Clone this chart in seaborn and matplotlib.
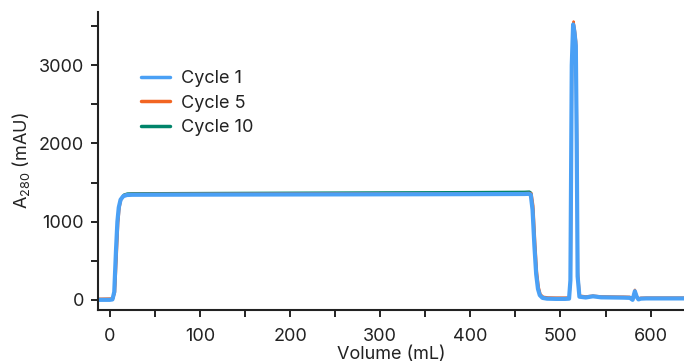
import numpy as np
import pandas as pd
import matplotlib
matplotlib.use("Agg")
import matplotlib.pyplot as plt
import seaborn as sns
from matplotlib.ticker import MultipleLocator

# Chromatogram traces: volume (mL) and absorbance at 280 nm (mAU)
vol_c1 = [-13, 0, 3, 5, 7, 8.5, 10, 12, 15, 19, 25, 100, 200, 300, 400, 460, 465,
          467, 469, 471, 473, 475, 477, 480, 485, 495, 505, 509.5, 511, 512.5, 514,
          515.5, 517, 518, 519, 521, 528, 536, 545, 570, 577, 580, 582.5, 584.5,
          586.5, 589, 595, 637]
abs_c1 = [0, 0, 5, 100, 650, 1000, 1180, 1280, 1325, 1340, 1343, 1345, 1347, 1349,
          1351, 1353, 1355, 1345, 1150, 700, 330, 140, 60, 25, 15, 12, 12, 15, 250,
          3000, 3520, 3420, 3250, 2000, 300, 40, 30, 45, 32, 28, 25, 0, 110, 40, 5,
          15, 18, 18]

vol_c5 = [-13, 0, 4, 6, 8, 9.5, 11, 13, 16, 20, 25, 100, 200, 300, 400, 460, 466,
          468, 470, 472, 474, 476, 478, 481, 486, 495, 505, 510, 511.5, 513, 514.5,
          516, 517.5, 518.5, 519.5, 521.5, 528, 536, 545, 570, 577, 580, 582.5,
          584.5, 586.5, 589, 595, 637]
abs_c5 = [15, 18, 20, 100, 600, 980, 1180, 1290, 1340, 1352, 1355, 1357, 1359,
          1361, 1363, 1365, 1368, 1360, 1200, 750, 360, 160, 70, 40, 32, 30, 30, 32,
          280, 3050, 3560, 3460, 3300, 2100, 350, 55, 45, 55, 45, 42, 40, 10, 130,
          50, 18, 28, 30, 30]

vol_c10 = [-13, 0, 3.5, 5.5, 7.5, 9, 10.5, 12.5, 15.5, 19.5, 25, 100, 200, 300,
           400, 460, 465.5, 467.5, 469.5, 471.5, 473.5, 475.5, 477.5, 480, 485, 495,
           505, 509.5, 511, 512.5, 514, 515.5, 517, 518, 519, 521, 528, 536, 545,
           570, 577, 580, 582.5, 584.5, 586.5, 589, 595, 637]
abs_c10 = [5, 5, 10, 100, 620, 990, 1185, 1295, 1345, 1360, 1363, 1366, 1370,
           1374, 1378, 1382, 1385, 1370, 1170, 720, 340, 150, 65, 30, 20, 18, 18,
           20, 260, 3010, 3530, 3430, 3260, 2020, 310, 45, 35, 50, 38, 33, 30, 5,
           115, 45, 10, 20, 22, 22]

series = ["Cycle 1", "Cycle 5", "Cycle 10"]
colors = {"Cycle 1": "#4aa0f5", "Cycle 5": "#f26522", "Cycle 10": "#00846a"}
widths = {"Cycle 1": 3.0, "Cycle 5": 1.6, "Cycle 10": 1.6}

frames = []
for name, v, a in [("Cycle 1", vol_c1, abs_c1), ("Cycle 5", vol_c5, abs_c5),
                   ("Cycle 10", vol_c10, abs_c10)]:
    frames.append(pd.DataFrame({"Volume": v, "A280": a, "Run": name}))
df = pd.concat(frames, ignore_index=True)

sns.set_theme(style="ticks")
plt.rcParams["font.family"] = ["Inter", "DejaVu Sans"]
plt.rcParams["mathtext.fontset"] = "custom"
plt.rcParams["mathtext.rm"] = "Inter"
plt.rcParams["mathtext.it"] = "Inter"
plt.rcParams["mathtext.default"] = "regular"

text_color = "#222222"
fs = 13
fig = plt.figure(figsize=(6.84, 3.63), dpi=100)
ax = fig.add_axes([0.1433, 0.146, 0.8567, 0.821])

# Draw later cycles first so Cycle 1 sits on top
for name in ["Cycle 10", "Cycle 5", "Cycle 1"]:
    sub = df[df["Run"] == name]
    sns.lineplot(data=sub, x="Volume", y="A280", ax=ax, color=colors[name],
                 linewidth=widths[name], sort=False, estimator=None,
                 label=name, solid_joinstyle="round", solid_capstyle="round")

ax.set_xlim(-13, 637)
ax.set_ylim(-130, 3680)
ax.xaxis.set_major_locator(MultipleLocator(100))
ax.xaxis.set_minor_locator(MultipleLocator(50))
ax.yaxis.set_major_locator(MultipleLocator(1000))
ax.yaxis.set_minor_locator(MultipleLocator(500))

for side in ["top", "right"]:
    ax.spines[side].set_visible(False)
for side in ["left", "bottom"]:
    ax.spines[side].set_linewidth(1.5)
    ax.spines[side].set_color(text_color)

ax.tick_params(axis="both", which="both", direction="out", width=1.4,
               length=5, color=text_color, labelsize=fs, labelcolor=text_color)
ax.tick_params(axis="x", which="major", pad=8)
ax.tick_params(axis="y", which="major", pad=5)

ax.set_xlabel("Volume (mL)", fontsize=fs, color=text_color, labelpad=1)
ax.set_ylabel(r"A$_{280}$ (mAU)", fontsize=fs, color=text_color, labelpad=5)

handles, labels = ax.get_legend_handles_labels()
order = [labels.index(s) for s in series]
leg = ax.legend([handles[i] for i in order], [labels[i] for i in order],
                loc="upper left", bbox_to_anchor=(0.045, 0.86), frameon=False,
                fontsize=fs, handlelength=1.65, handletextpad=0.6,
                labelspacing=0.42, labelcolor=text_color)
for line in leg.get_lines():
    line.set_linewidth(2.5)

fig.savefig("out.png", dpi=100)
